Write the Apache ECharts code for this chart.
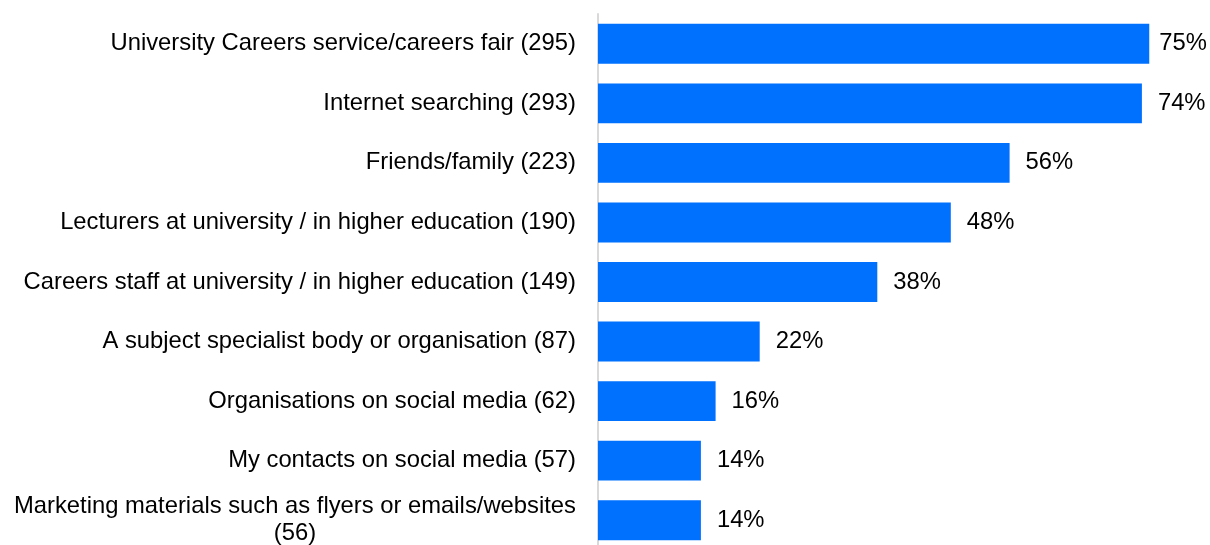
<!DOCTYPE html>
<html>
<head>
<meta charset="utf-8">
<script src="https://cdn.jsdelivr.net/npm/echarts@6/dist/echarts.min.js"></script>
<style>
  html, body { margin: 0; padding: 0; background: #ffffff; }
  #chart { width: 1210px; height: 545px; }
</style>
</head>
<body>
<div id="chart"></div>
<script>
// Sources used to find out about career opportunities (count in brackets)
const categories = [
  'University Careers service/careers fair (295)',
  'Internet searching (293)',
  'Friends/family (223)',
  'Lecturers at university / in higher education (190)',
  'Careers staff at university / in higher education (149)',
  'A subject specialist body or organisation (87)',
  'Organisations on social media (62)',
  'My contacts on social media (57)',
  'Marketing materials such as flyers or emails/websites\n(56)'
];
const percentages = [75, 74, 56, 48, 38, 22, 16, 14, 14];

const chart = echarts.init(document.getElementById('chart'), null, { renderer: 'canvas' });

const fontFamily = 'Liberation Sans, Arial, sans-serif';
const fontSize = 23.8;
// value labels are kept inside this right-hand limit
const labelLimit = 1207;

chart.setOption({
  animation: false,
  backgroundColor: '#ffffff',
  grid: {
    left: 598, width: 588, top: 14, height: 536,
    containLabel: false,
    outerBoundsMode: 'none'
  },
  xAxis: {
    type: 'value',
    min: 0,
    max: 80,
    show: false
  },
  yAxis: {
    type: 'category',
    inverse: true,
    data: categories,
    axisLine: { show: true, lineStyle: { color: '#d9d9d9', width: 2 } },
    axisTick: { show: false },
    axisLabel: {
      margin: 22,
      color: '#000000',
      fontSize: fontSize,
      fontFamily: fontFamily,
      lineHeight: 27,
      formatter: function (value) {
        return value.split('\n').map(function (line) { return '{c|' + line + '}'; }).join('\n');
      },
      rich: {
        c: { align: 'center', color: '#000000', fontSize: fontSize, fontFamily: fontFamily, lineHeight: 27 }
      }
    }
  },
  series: [{
    type: 'bar',
    data: percentages,
    barCategoryGap: '33%',
    itemStyle: { color: '#0070ff' },
    label: {
      show: true,
      position: 'right',
      distance: 16,
      color: '#000000',
      fontSize: fontSize,
      fontFamily: fontFamily,
      formatter: function (p) { return p.value + '%'; }
    },
    labelLayout: function (params) {
      const r = params.labelRect;
      const overflow = r.x + r.width - labelLimit;
      return overflow > 0 ? { dx: -overflow } : {};
    }
  }]
});
</script>
</body>
</html>
